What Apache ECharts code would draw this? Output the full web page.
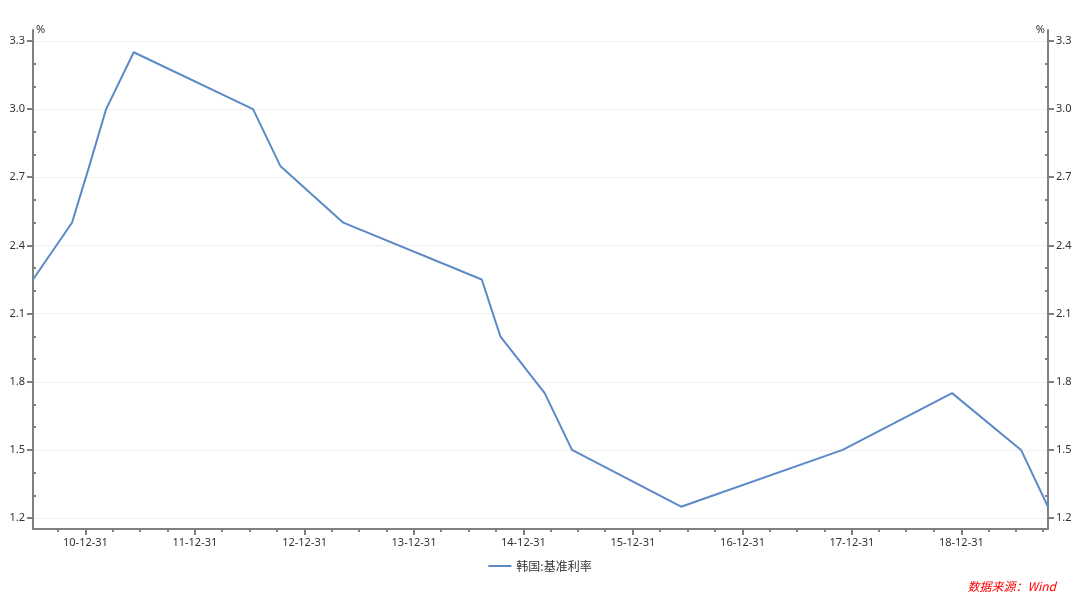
<!DOCTYPE html>
<html>
<head>
<meta charset="utf-8">
<script src="https://cdn.jsdelivr.net/npm/echarts@6/dist/echarts.min.js"></script>
<style>html,body{margin:0;padding:0;background:#fff}#c{width:1080px;height:592px}</style>
</head>
<body>
<div id="c"></div>
<script>
// Data: Korea base rate change dates and levels (%)
var dates = ['2010-07-09','2010-11-16','2011-01-13','2011-03-10','2011-06-10','2012-07-12','2012-10-11','2013-05-09','2014-08-14','2014-10-15','2015-03-12','2015-06-11','2016-06-09','2017-11-30','2018-11-30','2019-07-18','2019-10-16'];
var values = [2.25,2.5,2.75,3.0,3.25,3.0,2.75,2.5,2.25,2.0,1.75,1.5,1.25,1.5,1.75,1.5,1.25];
var seriesName = '韩国:基准利率';
var tickYears = [2010,2011,2012,2013,2014,2015,2016,2017,2018];
var yMajor = [1.2,1.5,1.8,2.1,2.4,2.7,3.0,3.3];
var yMinor = [1.3,1.4,1.6,1.7,1.9,2.0,2.2,2.3,2.5,2.6,2.8,2.9,3.1,3.2];
var sourceText = '数据来源：Wind';

function parse(s){var p=s.split('-');return new Date(+p[0],+p[1]-1,+p[2]).getTime();}
var xMin = parse(dates[0]), xMax = parse(dates[dates.length-1]);
var majorTicks = tickYears.map(function(y){return new Date(y,11,31).getTime();});
var minorTicks = [];
for (var y=2010;y<=2019;y++){ [[2,31],[5,30],[8,30]].forEach(function(md){var t=new Date(y,md[0],md[1]).getTime(); if(t>=xMin&&t<=xMax) minorTicks.push(t);}); }
function pad(n){return (n<10?'0':'')+n;}
function fmt(v){var d=new Date(+v);return pad(d.getFullYear()%100)+'-'+pad(d.getMonth()+1)+'-'+pad(d.getDate());}

var axisColor = '#7f7f7f';
var lineColor = '#5b8ac6';
var font = "'Noto Sans', 'Noto Sans CJK SC', sans-serif";
var lbl = {color:'#333', fontSize:11, fontFamily:font};
var yMin = 1.152, yMax = 3.348;

function yAx(pos, minor){
  var o = {
    type:'value', position:pos, min:yMin, max:yMax, gridIndex:0,
    axisLine:{show:!minor, lineStyle:{color:axisColor, width:2}},
    axisTick:{show:true, inside:minor, length:minor?3:6, customValues: minor?yMinor:yMajor, lineStyle:{color:axisColor, width:2}},
    axisLabel: minor ? {show:false} : Object.assign({customValues:yMajor, margin:8, formatter:function(v){return (+v).toFixed(1);}}, lbl),
    splitLine:{show:(!minor && pos==='left'), lineStyle:{color:'#f0f0f0', width:1}}
  };
  if(!minor){
    o.name='%'; o.nameLocation='end'; o.nameGap=0;
    o.nameTextStyle={color:'#333', fontSize:11, fontFamily:font, align: pos==='left'?'left':'right', verticalAlign:'middle', padding: pos==='left'?[0,0,0,3]:[0,3,0,0]};
  }
  return o;
}

var chart = echarts.init(document.getElementById('c'));
chart.setOption({
  animation:false,
  backgroundColor:'#fff',
  grid:{left:33, right:32, top:30, bottom:63, containLabel:false},
  xAxis:[
    {type:'value', min:xMin, max:xMax, position:'bottom', scale:true,
     axisLine:{show:true, lineStyle:{color:axisColor, width:2}},
     axisTick:{show:true, customValues:majorTicks, length:6, lineStyle:{color:axisColor, width:2}},
     axisLabel:Object.assign({customValues:majorTicks, formatter:function(v){return fmt(v);}, margin:8}, lbl),
     splitLine:{show:false}},
    {type:'value', min:xMin, max:xMax, position:'bottom', scale:true,
     axisLine:{show:false},
     axisTick:{show:true, customValues:minorTicks, length:3, lineStyle:{color:axisColor, width:2}},
     axisLabel:{show:false}, splitLine:{show:false}}
  ],
  yAxis:[yAx('left',false), yAx('left',true), yAx('right',false), yAx('right',true)],
  legend:{bottom:15, left:'center', icon:'rect', itemWidth:23, itemHeight:2, itemGap:10,
    textStyle:{color:'#333', fontSize:12, fontFamily:"'Noto Sans CJK SC', sans-serif"},
    data:[seriesName]},
  graphic:[{type:'text', right:24, bottom:0, style:{text:sourceText, fill:'#ff0000', fontSize:12, fontStyle:'italic', fontFamily:"'Noto Sans CJK SC', sans-serif"}}],
  series:[{
    name:seriesName, type:'line', xAxisIndex:0, yAxisIndex:0, symbol:'none',
    lineStyle:{color:lineColor, width:2}, itemStyle:{color:lineColor},
    data: dates.map(function(d,i){return [parse(d), values[i]];}),
    z:3
  }]
});
</script>
</body>
</html>
